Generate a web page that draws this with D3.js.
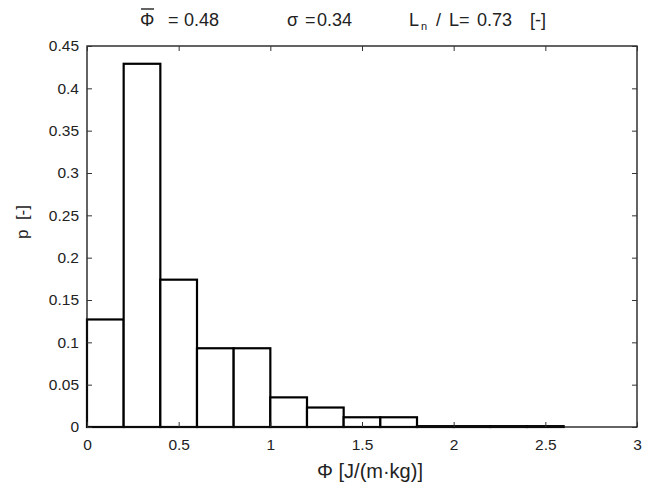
<!DOCTYPE html>
<html><head><meta charset="utf-8">
<script src="https://cdn.jsdelivr.net/npm/d3@7"></script>
<style>body{margin:0;background:#fff}text{font-family:"Liberation Sans",Arial,sans-serif;fill:#222}</style>
</head><body><svg id="c" width="648" height="492"></svg>
<script>
const binStarts = [0,0.2,0.4,0.6,0.8,1.0,1.2,1.4,1.6,1.8,2.0,2.2,2.4];
const binWidth = 0.2;
const probabilities = [0.127,0.429,0.174,0.093,0.093,0.035,0.023,0.0115,0.0115,0.001,0.001,0.001,0.001];
const xTicks = [0,0.5,1,1.5,2,2.5,3];
const yTicks = [0,0.05,0.1,0.15,0.2,0.25,0.3,0.35,0.4,0.45];
const xTickLabels = ["0","0.5","1","1.5","2","2.5","3"];
const yTickLabels = ["0","0.05","0.1","0.15","0.2","0.25","0.3","0.35","0.4","0.45"];

const L=87, R=637, T=46, B=427;
const svg=d3.select("#c");
const x=d3.scaleLinear().domain([0,3]).range([L,R]);
const y=d3.scaleLinear().domain([0,0.45]).range([B,T]);

// bars
svg.append("g").selectAll("rect").data(binStarts).join("rect")
  .attr("x",d=>x(d)).attr("width",x(binWidth)-x(0))
  .attr("y",(d,i)=>y(probabilities[i])).attr("height",(d,i)=>y(0)-y(probabilities[i]))
  .attr("fill","#fff").attr("stroke","#000").attr("stroke-width",2.2);

// frame
svg.append("rect").attr("x",L).attr("y",T).attr("width",R-L).attr("height",B-T)
  .attr("fill","none").attr("stroke","#111").attr("stroke-width",1.3);

// axes (ticks inward)
const xAxis=d3.axisBottom(x).tickValues(xTicks).tickFormat((d,i)=>xTickLabels[i]).tickSizeInner(-5).tickSizeOuter(0).tickPadding(12);
svg.append("g").attr("transform",`translate(0,${B})`).call(xAxis);
const yAxis=d3.axisLeft(y).tickValues(yTicks).tickFormat((d,i)=>yTickLabels[i]).tickSizeInner(-5).tickSizeOuter(0).tickPadding(8);
svg.append("g").attr("transform",`translate(${L},0)`).call(yAxis);
const xTop=d3.axisTop(x).tickValues(xTicks).tickFormat("").tickSizeInner(-5).tickSizeOuter(0);
svg.append("g").attr("transform",`translate(0,${T})`).call(xTop);
const yRight=d3.axisRight(y).tickValues(yTicks).tickFormat("").tickSizeInner(-5).tickSizeOuter(0);
svg.append("g").attr("transform",`translate(${R},0)`).call(yRight);
svg.selectAll(".domain").remove();
svg.selectAll(".tick line").attr("stroke","#333").attr("stroke-width",1);
svg.selectAll(".tick text").style("font-size","15.5px").style("font-family","'Liberation Sans',Arial,sans-serif").attr("fill","#222");

// axis labels
svg.append("text").attr("x",370).attr("y",478).attr("text-anchor","middle").style("font-size","20px").text("Φ [J/(m·kg)]");
svg.append("text").attr("transform","translate(28,222) rotate(-90)").attr("text-anchor","middle").style("font-size","17px").style("white-space","pre").text("p  [-]");

// title
const t=svg.append("g").style("font-size","18px");
const seg=(s,px,py,fs)=>{const e=t.append("text").attr("x",px).attr("y",py).text(s); if(fs) e.style("font-size",fs); return e;};
seg("Φ",140,26);
t.append("line").attr("x1",141).attr("x2",154).attr("y1",9).attr("y2",9).attr("stroke","#222").attr("stroke-width",1.4);
seg("=",168,26); seg("0.48",184,26);
seg("σ",287,26); seg("=",305,26); seg("0.34",317,26);
seg("L",409,26); seg("n",421,30,"11px"); seg("/",436,26); seg("L=",449,26); seg("0.73",477,26); seg("[-]",530,26);
</script></body></html>
